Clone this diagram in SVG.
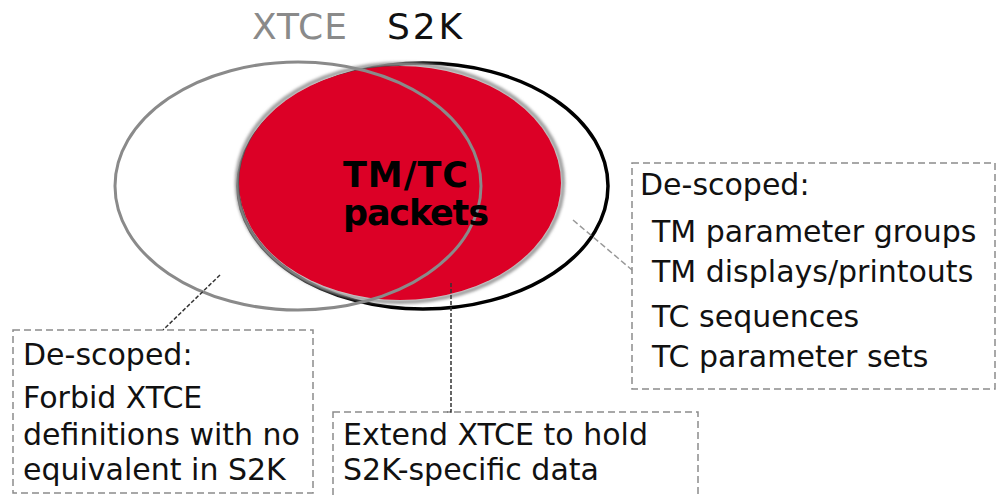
<svg xmlns="http://www.w3.org/2000/svg" width="1000" height="495" viewBox="0 0 1000 495">
<defs>
<style>
.t{font-family:"DejaVu Sans","Verdana",sans-serif;font-size:30px;fill:#111}
.box{fill:none;stroke:#8c8c8c;stroke-width:1.5;stroke-dasharray:7 4}
</style>
<filter id="blur" x="-10%" y="-10%" width="120%" height="120%"><feGaussianBlur stdDeviation="1.6"/></filter>
</defs>
<rect width="1000" height="495" fill="#fff"/>
<g id="s2k">
<ellipse cx="423" cy="186" rx="185" ry="123" fill="none" stroke="#000" stroke-width="3.5"/>
</g>
<g id="overlap">
<ellipse cx="400" cy="183" rx="163" ry="119" fill="none" stroke="#999" stroke-width="4" filter="url(#blur)"/>
<ellipse cx="400" cy="183" rx="161" ry="117" fill="#dc0026"/>
</g>
<g id="xtce">
<ellipse cx="298" cy="186" rx="183" ry="124" fill="none" stroke="#8a8a8a" stroke-width="3"/>
</g>
<g id="titles">
<text x="252" y="39" style="font-family:'DejaVu Sans',sans-serif;font-size:36px;fill:#8a8a8a" textLength="95">XTCE</text>
<text x="387" y="39" style="font-family:'DejaVu Sans',sans-serif;font-size:36px;fill:#111" textLength="75">S2K</text>
</g>
<g id="center-label">
<text x="343" y="187" style="font-family:'DejaVu Sans',sans-serif;font-weight:bold;font-size:35px;fill:#000" textLength="125">TM/TC</text>
<text x="343" y="225" style="font-family:'DejaVu Sans',sans-serif;font-weight:bold;font-size:35px;fill:#000" textLength="146">packets</text>
</g>
<g id="connectors" fill="none">
<line x1="220" y1="275" x2="163" y2="330" stroke="#333" stroke-width="1.5" stroke-dasharray="4 2"/>
<polyline points="451,283 451,412 447,412" stroke="#333" stroke-width="1.5" stroke-dasharray="4 2"/>
<line x1="573" y1="220" x2="632" y2="270" stroke="#999" stroke-width="1.5" stroke-dasharray="6 3"/>
</g>
<g id="box-left">
<rect class="box" x="13" y="330" width="300" height="163"/>
<text class="t" x="23" y="365">De-scoped:</text>
<text class="t" x="23" y="408">Forbid XTCE</text>
<text class="t" x="23" y="445">definitions with no</text>
<text class="t" x="23" y="480">equivalent in S2K</text>
</g>
<g id="box-bottom">
<rect class="box" x="333" y="412" width="365" height="100"/>
<text class="t" x="343" y="445">Extend XTCE to hold</text>
<text class="t" x="343" y="480">S2K-specific data</text>
</g>
<g id="box-right">
<rect class="box" x="632" y="163" width="363" height="226"/>
<text class="t" x="640" y="195">De-scoped:</text>
<text class="t" x="652" y="242">TM parameter groups</text>
<text class="t" x="652" y="282">TM displays/printouts</text>
<text class="t" x="652" y="327">TC sequences</text>
<text class="t" x="652" y="367">TC parameter sets</text>
</g>
</svg>
